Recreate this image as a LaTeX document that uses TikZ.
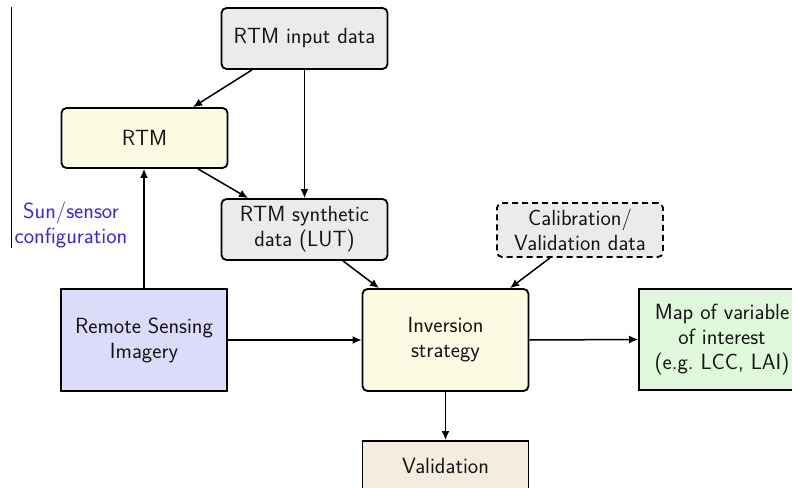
\documentclass[tikz,border=0pt]{standalone}
\usetikzlibrary{arrows.meta}
\definecolor{boxgray}{HTML}{EBEBEB}
\definecolor{boxyellow}{HTML}{FCFCE4}
\definecolor{boxlav}{HTML}{DCDCFA}
\definecolor{boxgreen}{HTML}{E0F8DC}
\definecolor{boxbeige}{HTML}{F5ECE0}
\definecolor{txt}{HTML}{141414}
\definecolor{sunblue}{HTML}{3C1EFF}
\tikzset{
  lbl/.style={font=\sffamily\fontsize{22}{25}\selectfont},
  blk/.style={draw=black, line width=1.8pt, minimum width=166pt, align=center,
    text=txt, lbl, inner sep=0pt},
  rnd/.style={blk, rounded corners=5pt},
  arr/.style={line width=1.5pt, -{Latex[length=9pt,width=8pt]}},
}
\begin{document}
\begin{tikzpicture}[x=1pt,y=-1pt]
\useasboundingbox (0,0) rectangle (792,487);
\clip (0,0) rectangle (792,487);
% left rule
\draw[line width=1.2pt] (11.5,7) -- (11.5,248);
% blocks
\node[rnd, fill=boxgray, minimum height=61pt] (inp) at (304.5,38.5) {RTM input data};
\node[rnd, fill=boxyellow, minimum height=60pt] (rtm) at (144.5,138) {RTM};
\node[rnd, fill=boxgray, minimum height=61pt] (lut) at (304.5,229.5) {RTM synthetic\\data (LUT)};
\node[rnd, fill=boxgray, dash pattern=on 6pt off 4pt, minimum height=54pt] (cal) at (580,230) {Calibration/\\Validation data};
\node[blk, fill=boxlav, minimum height=102pt] (rsi) at (144,340) {Remote Sensing\\Imagery};
\node[rnd, fill=boxyellow, minimum height=102pt] (inv) at (445.5,340) {Inversion\\strategy};
\node[blk, fill=boxgreen, minimum height=101pt] (map) at (722,339.5) {Map of variable\\of interest\\(e.g.\ LCC, LAI)};
\node[blk, fill=boxbeige, minimum height=60pt, anchor=north] (val) at (445.5,440) {};
\node[text=txt, lbl] (valt) at (445.5,466) {Validation};
\node[text=sunblue, align=center, lbl] (sun) at (71,225) {Sun/sensor\\configuration};
% connectors
\draw[arr] (inp.south -| 252,0) -- (rtm.north -| 193,0);
\draw[arr] (inp.south) -- (lut.north);
\draw[arr] (rtm.south -| 198,0) -- (lut.north -| 248,0);
\draw[arr] (rsi.north) -- (rtm.south -| rsi.north);
\draw[arr] (lut.south -| 343,0) -- (inv.north -| 379,0);
\draw[arr] (cal.south -| 550,0) -- (inv.north -| 510,0);
\draw[arr] (rsi.east) -- (inv.west);
\draw[arr] (inv.east) -- (map.west);
\draw[arr] (inv.south) -- (val.north);
\end{tikzpicture}
\end{document}
